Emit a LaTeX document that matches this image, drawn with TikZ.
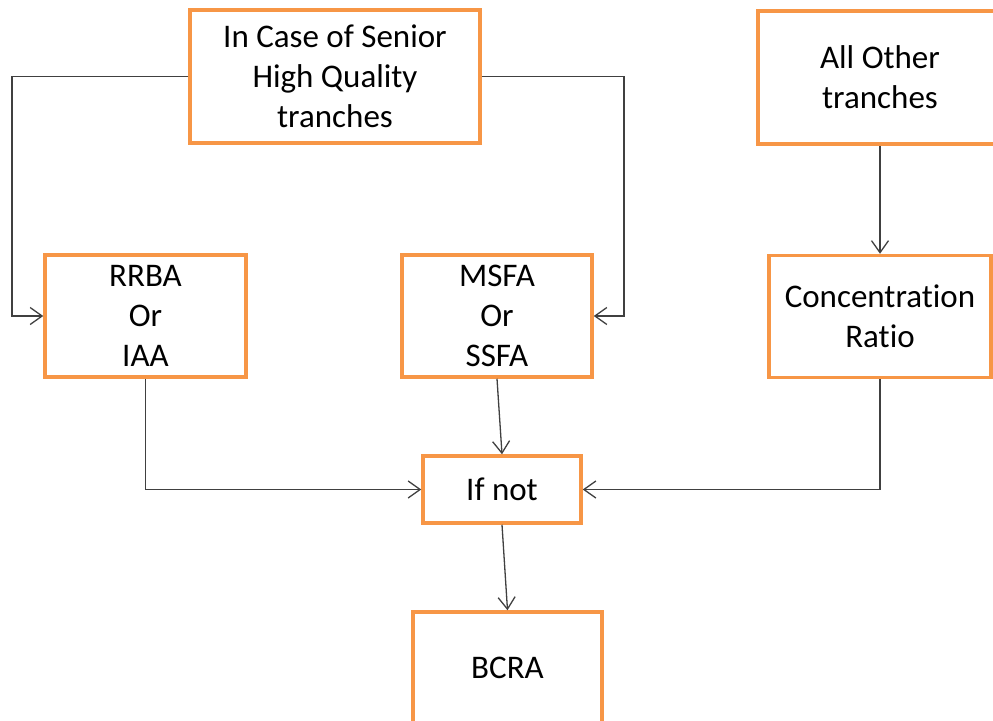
\documentclass[tikz,border=0pt]{standalone}
\usepackage{fontspec}
\setmainfont[Ligatures={NoCommon}]{Carlito}
\usetikzlibrary{arrows.meta}
\definecolor{boxorange}{HTML}{F79646}
\definecolor{linegray}{HTML}{404040}
\tikzset{
  box/.style={draw=boxorange, line width=3.5pt, fill=white, align=center,
    inner sep=0pt, font=\fontsize{33}{40}\selectfont, text=black},
  conn/.style={draw=linegray, line width=1.3pt,
    -{Straight Barb[length=12pt,width=17pt,line width=1.3pt]}}
}
\begin{document}
\begin{tikzpicture}[x=1pt,y=-1pt]
\useasboundingbox (0,0) rectangle (993,720);
\begin{scope}
\clip (0,0) rectangle (993,720);
\node[box, minimum width=290pt, minimum height=133pt] (top) at (335,76.5) {In Case of Senior\\High Quality\\tranches};
\node[box, minimum width=244pt, minimum height=133pt] (other) at (880,77.5) {All Other\\tranches};
\node[box, minimum width=201pt, minimum height=122pt] (rrba) at (145.5,316) {RRBA\\Or\\IAA};
\node[box, minimum width=190pt, minimum height=122pt] (msfa) at (497,316) {MSFA\\Or\\SSFA};
\node[box, minimum width=222pt, minimum height=122pt] (conc) at (880,316.5) {Concentration\\Ratio};
\node[box, minimum width=158pt, minimum height=67pt] (ifnot) at (502,489.5) {If not};
\node[box, minimum width=189pt, minimum height=112pt] (bcra) at (507.5,668) {BCRA};
\coordinate (lx) at (12,0);
\coordinate (rx) at (624,0);
\draw[conn] (top.west) -- (top.west -| lx) |- (rrba.west);
\draw[conn] (top.east) -- (top.east -| rx) |- (msfa.east);
\draw[conn] (other.south) -- (conc.north);
\draw[conn] (msfa.south) -- (ifnot.north);
\draw[conn] (rrba.south) |- (ifnot.west);
\draw[conn] (conc.south) |- (ifnot.east);
\draw[conn] (ifnot.south) -- (bcra.north);
\end{scope}
\end{tikzpicture}
\end{document}
